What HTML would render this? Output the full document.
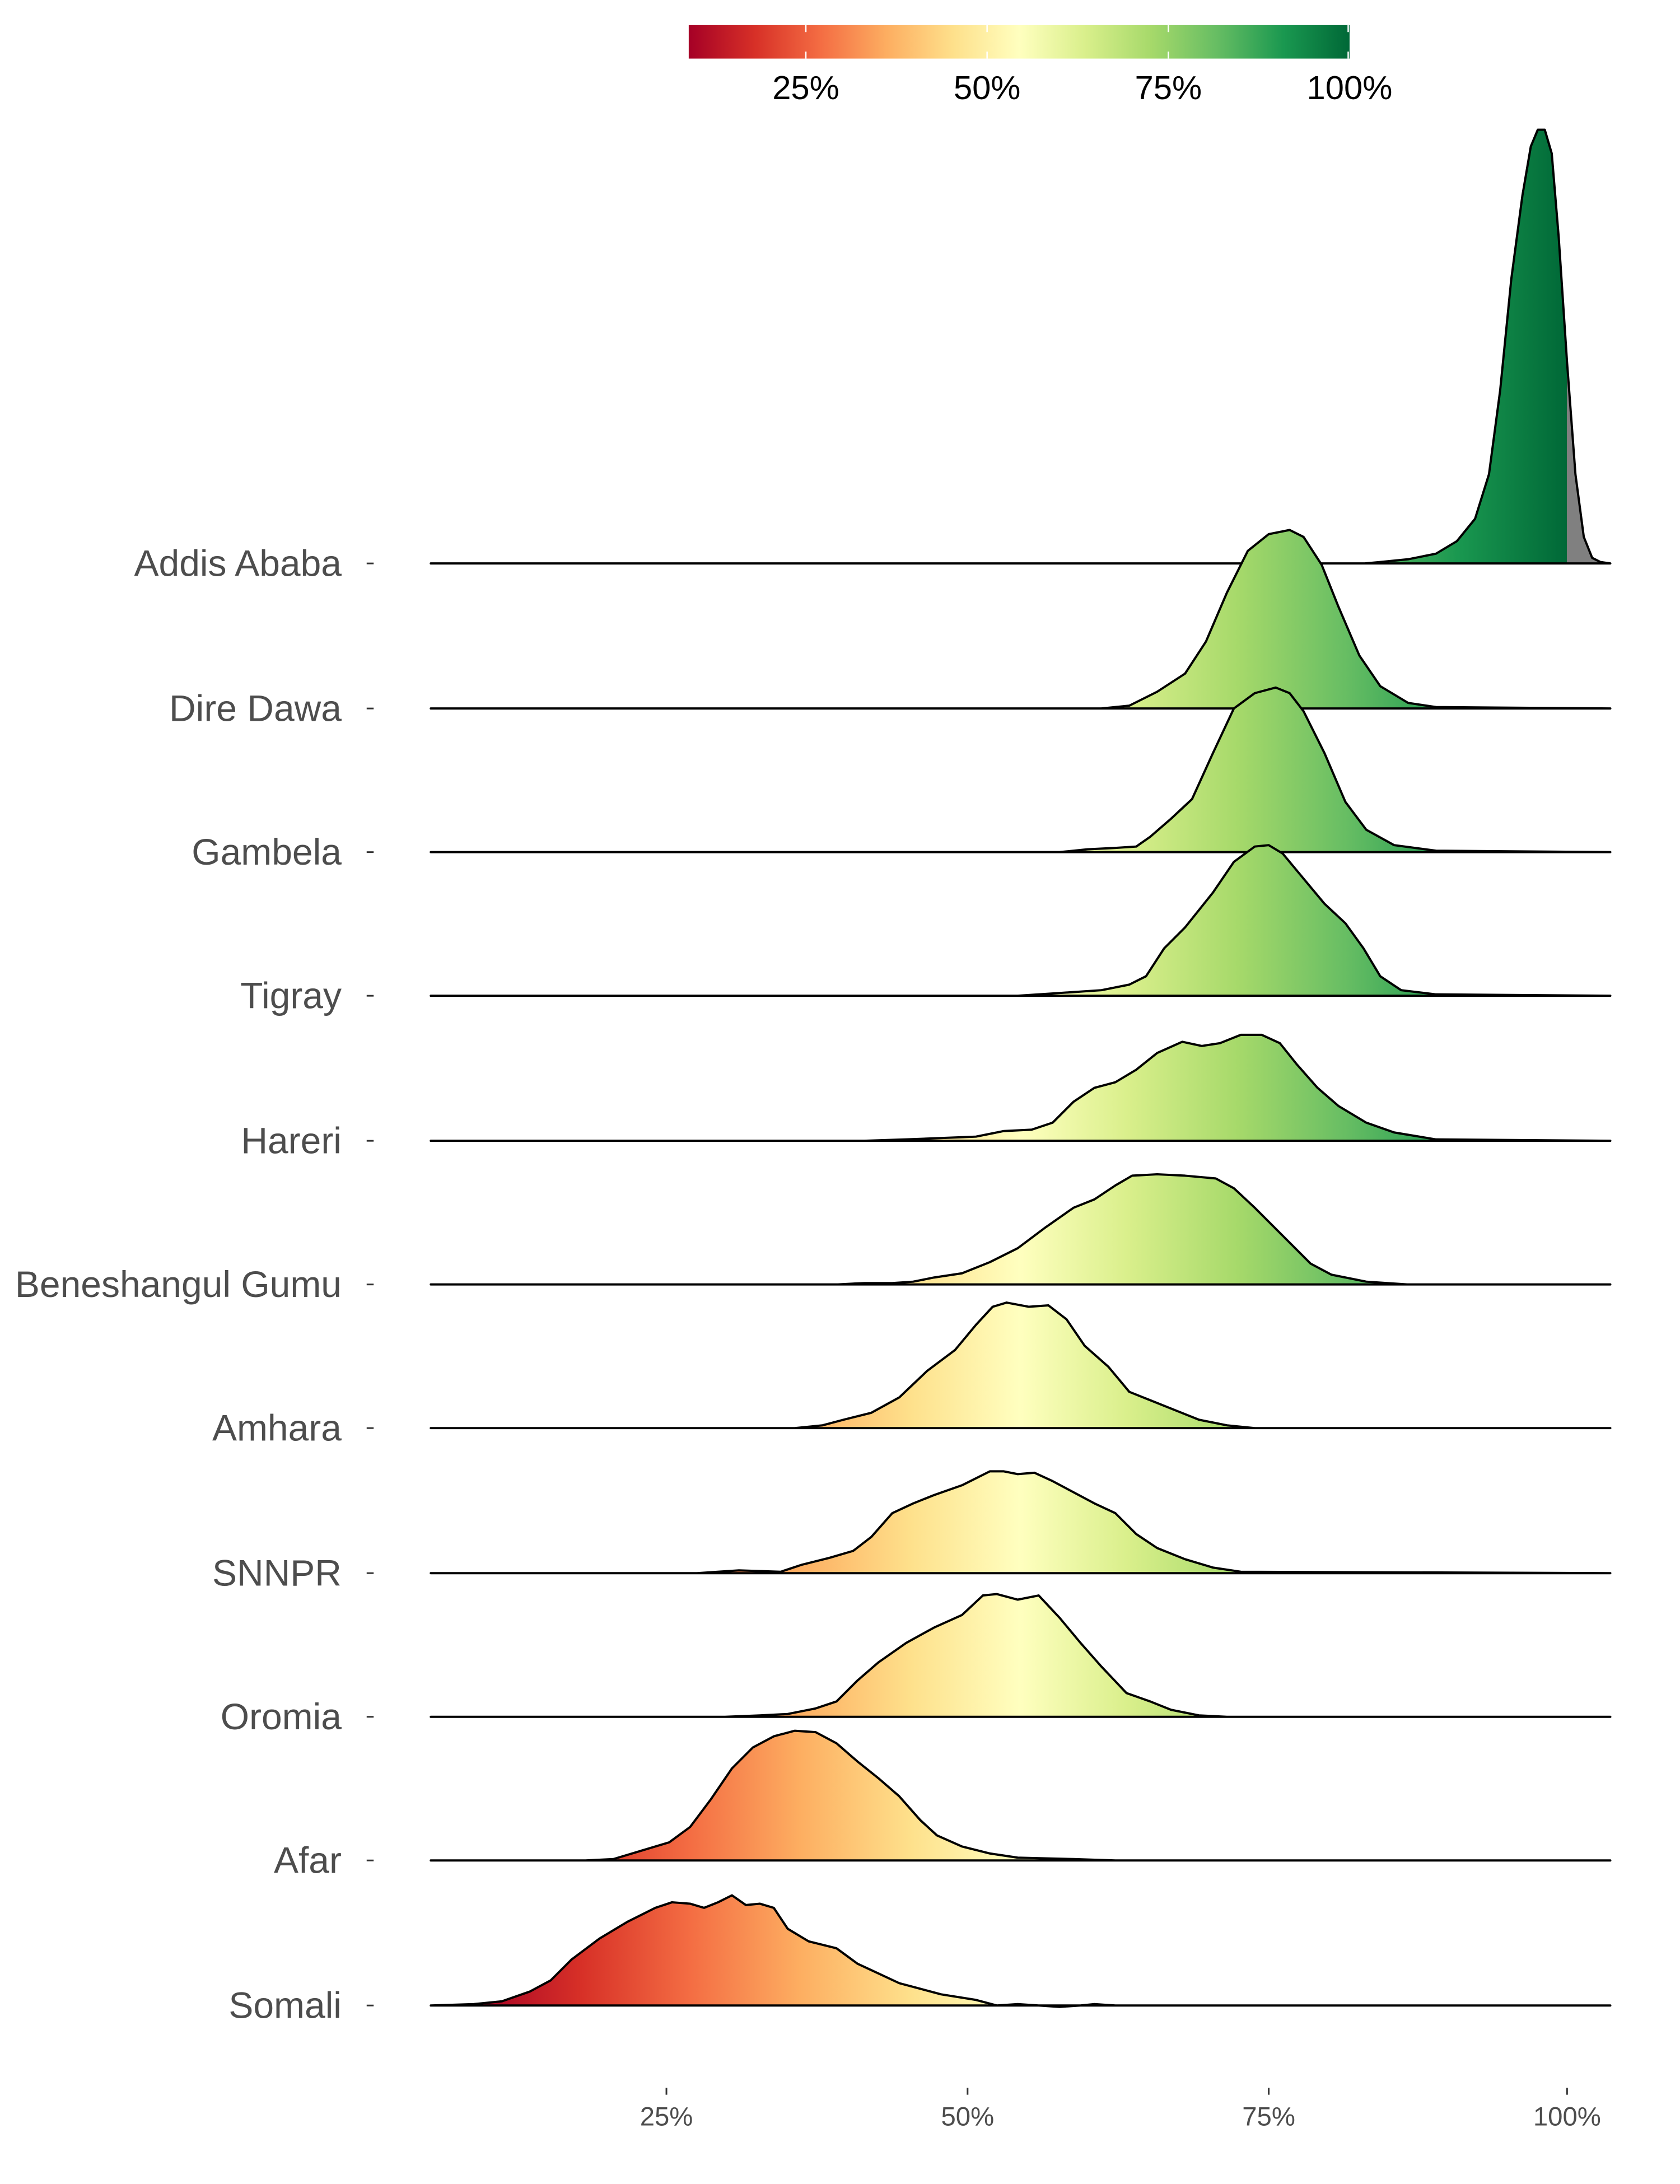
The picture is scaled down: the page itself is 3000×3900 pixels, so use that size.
<!DOCTYPE html>
<html><head><meta charset="utf-8"><style>
html,body{margin:0;padding:0;background:#fff;}
svg{display:block;}
</style></head><body>
<svg width="3000" height="3900" viewBox="0 0 1205 1566" preserveAspectRatio="none" xmlns="http://www.w3.org/2000/svg">
<defs>
<linearGradient id="cb" x1="0" x2="1" y1="0" y2="0">
<stop offset="0" stop-color="#a50026"/><stop offset="0.1" stop-color="#d73027"/><stop offset="0.2" stop-color="#f46d43"/><stop offset="0.3" stop-color="#fdae61"/><stop offset="0.4" stop-color="#fee08b"/><stop offset="0.5" stop-color="#ffffbf"/><stop offset="0.6" stop-color="#d9ef8b"/><stop offset="0.7" stop-color="#a6d96a"/><stop offset="0.8" stop-color="#66bd63"/><stop offset="0.9" stop-color="#1a9850"/><stop offset="1" stop-color="#006837"/>
</linearGradient>
<linearGradient id="g" gradientUnits="userSpaceOnUse" x1="338" x2="1155" y1="0" y2="0">
<stop offset="0" stop-color="#a50026"/><stop offset="0.0962" stop-color="#d73027"/><stop offset="0.1924" stop-color="#f46d43"/><stop offset="0.2886" stop-color="#fdae61"/><stop offset="0.3848" stop-color="#fee08b"/><stop offset="0.481" stop-color="#ffffbf"/><stop offset="0.5772" stop-color="#d9ef8b"/><stop offset="0.6734" stop-color="#a6d96a"/><stop offset="0.7696" stop-color="#66bd63"/><stop offset="0.8658" stop-color="#1a9850"/><stop offset="0.962" stop-color="#006837"/><stop offset="0.962" stop-color="#808080"/><stop offset="1" stop-color="#808080"/>
</linearGradient>
</defs>
<rect x="494" y="18" width="474" height="24" fill="url(#cb)"/>
<g stroke="#fff" stroke-width="1">
<line x1="578" y1="18" x2="578" y2="23"/><line x1="578" y1="37" x2="578" y2="42"/>
<line x1="708" y1="18" x2="708" y2="23"/><line x1="708" y1="37" x2="708" y2="42"/>
<line x1="838" y1="18" x2="838" y2="23"/><line x1="838" y1="37" x2="838" y2="42"/>
<line x1="967" y1="18" x2="967" y2="23"/><line x1="967" y1="37" x2="967" y2="42"/>
</g>
<g font-family="Liberation Sans, sans-serif" font-size="24" fill="#000" text-anchor="middle">
<text x="578" y="71">25%</text><text x="708" y="71">50%</text><text x="838" y="71">75%</text><text x="968" y="71">100%</text>
</g>
<g fill="url(#g)" stroke="#000" stroke-width="1.6" stroke-linejoin="round">
<path d="M309 404 L979 404 990 403 1010 401 1030 397 1045 388 1058 372 1068 340 1076 280 1084 200 1092 140 1098 105 1103 93 1108 93 1113 110 1118 170 1124 260 1130 340 1136 385 1142 400 1148 403 1155 404 Z"/>
<path d="M309 508 L790 508 810 506 830 496 850 483 865 460 880 425 895 395 910 383 925 380 935 385 948 405 960 435 975 470 990 492 1010 504 1030 507 1155 508 Z"/>
<path d="M309 611 L760 611 780 609 800 608 815 607 825 600 840 587 855 573 870 540 885 508 900 497 915 493 925 497 935 510 950 540 965 575 980 595 1000 606 1030 610 1155 611 Z"/>
<path d="M309 714 L730 714 760 712 790 710 810 706 822 700 835 680 850 665 870 640 885 618 900 607 910 606 920 612 935 630 950 648 965 662 978 680 990 700 1005 710 1030 713 1155 714 Z"/>
<path d="M309 818 L620 818 650 817 700 815 720 811 740 810 755 805 770 790 785 780 800 776 815 767 830 755 848 747 862 750 875 748 890 742 905 742 918 748 930 763 945 780 960 793 980 805 1000 812 1030 817 1155 818 Z"/>
<path d="M309 921 L600 921 620 920 640 920 655 919 670 916 690 913 710 905 730 895 750 880 770 866 785 860 800 850 812 843 830 842 850 843 872 845 885 852 900 866 920 886 940 906 955 914 980 919 1010 921 1155 921 Z"/>
<path d="M309 1024 L570 1024 590 1022 605 1018 625 1013 645 1002 665 983 685 968 700 950 712 937 722 934 738 937 752 936 765 946 778 965 795 980 810 998 825 1004 845 1012 860 1018 880 1022 900 1024 1155 1024 Z"/>
<path d="M309 1128 L500 1128 530 1126 560 1127 575 1122 595 1117 612 1112 625 1102 640 1085 655 1078 670 1072 690 1065 710 1055 720 1055 730 1057 742 1056 755 1062 770 1070 785 1078 800 1085 815 1100 830 1110 850 1118 870 1124 890 1127 1155 1128 Z"/>
<path d="M309 1231 L520 1231 545 1230 565 1229 585 1225 600 1220 615 1205 630 1192 650 1178 670 1167 690 1158 705 1144 715 1143 730 1147 745 1144 760 1160 775 1178 790 1195 808 1214 825 1220 840 1226 860 1230 880 1231 1155 1231 Z"/>
<path d="M309 1334 L420 1334 440 1333 460 1327 480 1321 495 1310 510 1290 525 1268 540 1253 555 1245 570 1241 585 1242 600 1250 615 1263 630 1275 645 1288 660 1305 672 1316 690 1324 710 1329 730 1332 770 1333 800 1334 1155 1334 Z"/>
<path d="M309 1438 L340 1437 360 1435 380 1428 395 1420 410 1405 430 1390 450 1378 470 1368 482 1364 495 1365 505 1368 515 1364 525 1359 535 1366 545 1365 555 1368 565 1383 580 1392 600 1397 615 1408 630 1415 645 1422 660 1426 675 1430 700 1434 715 1438 730 1437 745 1438 760 1439 775 1438 785 1437 800 1438 1155 1438 Z"/>
</g>
<g font-family="Liberation Sans, sans-serif" font-size="26.5" fill="#4d4d4d" text-anchor="end">
<text x="245" y="413">Addis Ababa</text>
<text x="245" y="517">Dire Dawa</text>
<text x="245" y="620">Gambela</text>
<text x="245" y="723">Tigray</text>
<text x="245" y="827">Hareri</text>
<text x="245" y="930">Beneshangul Gumu</text>
<text x="245" y="1033">Amhara</text>
<text x="245" y="1137">SNNPR</text>
<text x="245" y="1240">Oromia</text>
<text x="245" y="1343">Afar</text>
<text x="245" y="1447">Somali</text>
</g>
<g stroke="#333" stroke-width="1.2">
<line x1="263" y1="404" x2="268" y2="404"/><line x1="263" y1="508" x2="268" y2="508"/><line x1="263" y1="611" x2="268" y2="611"/><line x1="263" y1="714" x2="268" y2="714"/><line x1="263" y1="818" x2="268" y2="818"/><line x1="263" y1="921" x2="268" y2="921"/><line x1="263" y1="1024" x2="268" y2="1024"/><line x1="263" y1="1128" x2="268" y2="1128"/><line x1="263" y1="1231" x2="268" y2="1231"/><line x1="263" y1="1334" x2="268" y2="1334"/><line x1="263" y1="1438" x2="268" y2="1438"/>
<line x1="478" y1="1497" x2="478" y2="1502"/><line x1="694" y1="1497" x2="694" y2="1502"/><line x1="910" y1="1497" x2="910" y2="1502"/><line x1="1124" y1="1497" x2="1124" y2="1502"/>
</g>
<g font-family="Liberation Sans, sans-serif" font-size="19" fill="#4d4d4d" text-anchor="middle">
<text x="478" y="1524">25%</text><text x="694" y="1524">50%</text><text x="910" y="1524">75%</text><text x="1124" y="1524">100%</text>
</g>
</svg>
</body></html>
